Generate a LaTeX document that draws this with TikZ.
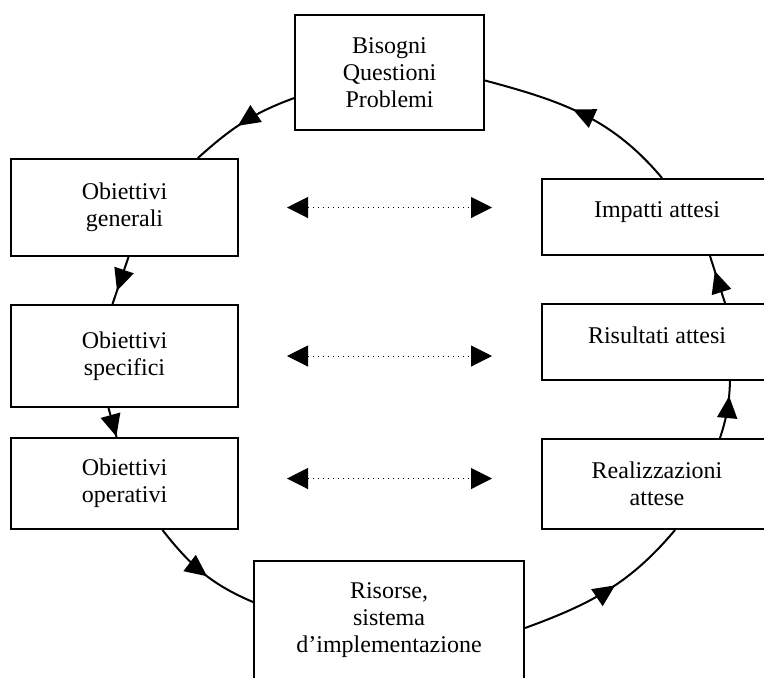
\documentclass[tikz,border=0pt]{standalone}
\usepackage{fontspec}
\setmainfont{Liberation Serif}
\usetikzlibrary{positioning,arrows.meta,decorations.markings}

\tikzset{
  box/.style={draw, line width=1pt, align=center, inner sep=0pt, font=\fontsize{12}{13.5}\selectfont},
  leftbox/.style={box, minimum width=113.5pt},
  rightbox/.style={box, minimum width=115pt},
  flow/.style={line width=1pt, postaction={decorate},
    decoration={markings, mark=at position #1 with {\arrow{Triangle[length=11pt,width=10pt]}}}},
  flow/.default=0.55,
  pair/.style={dotted, line width=0.5pt, {Triangle[length=10.5pt,width=10.5pt]}-{Triangle[length=10.5pt,width=10.5pt]},
    shorten <=24pt, shorten >=24.5pt}
}

\begin{document}
\begin{tikzpicture}[x=1pt, y=1pt]
  \path[use as bounding box, clip] (0,0) rectangle (382,-338.5);

  \node[box, minimum width=94.5pt, minimum height=57.5pt] (bisogni) at (194.75,-36.25) {Bisogni\\Questioni\\Problemi};
  \node[leftbox, minimum height=48.5pt] (generali) at (62.25,-103.75) {Obiettivi\\generali};
  \node[leftbox, minimum height=51pt, below=23.5pt of generali] (specifici) {Obiettivi\\specifici};
  \node[leftbox, minimum height=45.5pt, below=14.5pt of specifici] (operativi) {Obiettivi\\operativi};
  \node[rightbox, minimum height=38pt] (impatti) at (328.5,-108.5) {\raisebox{7pt}{Impatti attesi}};
  \node[rightbox, minimum height=38pt, below=23.5pt of impatti] (risultati) {\raisebox{7pt}{Risultati attesi}};
  \node[rightbox, minimum height=45pt, below=28.5pt of risultati] (realizzazioni) {Realizzazioni\\attese};
  \node[box, minimum width=135pt, minimum height=59pt] (risorse) at (194.5,-310) {Risorse,\\sistema\\d’implementazione};

  % the cycle
  \draw[flow] (bisogni.195) to[out=200, in=42] (generali.34);
  \draw[flow=0.72] ([xshift=2pt]generali.south) -- ([xshift=-6pt]specifici.north);
  \draw[flow=0.98] ([xshift=-8pt]specifici.south) -- ([xshift=-4pt]operativi.north);
  \draw[flow] ([xshift=19pt]operativi.south) to[out=-52, in=157] ([yshift=9pt]risorse.west);
  \draw[flow] ([yshift=-4pt]risorse.east) to[out=20, in=230] ([xshift=9pt]realizzazioni.south);
  \draw[flow=0.74] ([xshift=31.5pt]realizzazioni.north) to[bend right=8] ([xshift=36.5pt]risultati.south);
  \draw[flow=0.68] ([xshift=34pt]risultati.north) -- ([xshift=26.5pt]impatti.south);
  \draw[flow] ([xshift=2.5pt]impatti.north) to[out=130, in=-15] ([yshift=-4pt]bisogni.east);

  % correspondences
  \coordinate (ops) at ([yshift=2.5pt]operativi.east);
  \draw[pair] (generali.east) -- (generali.east -| impatti.west);
  \draw[pair] (specifici.east) -- (specifici.east -| impatti.west);
  \draw[pair] (ops) -- (ops -| impatti.west);
\end{tikzpicture}
\end{document}
